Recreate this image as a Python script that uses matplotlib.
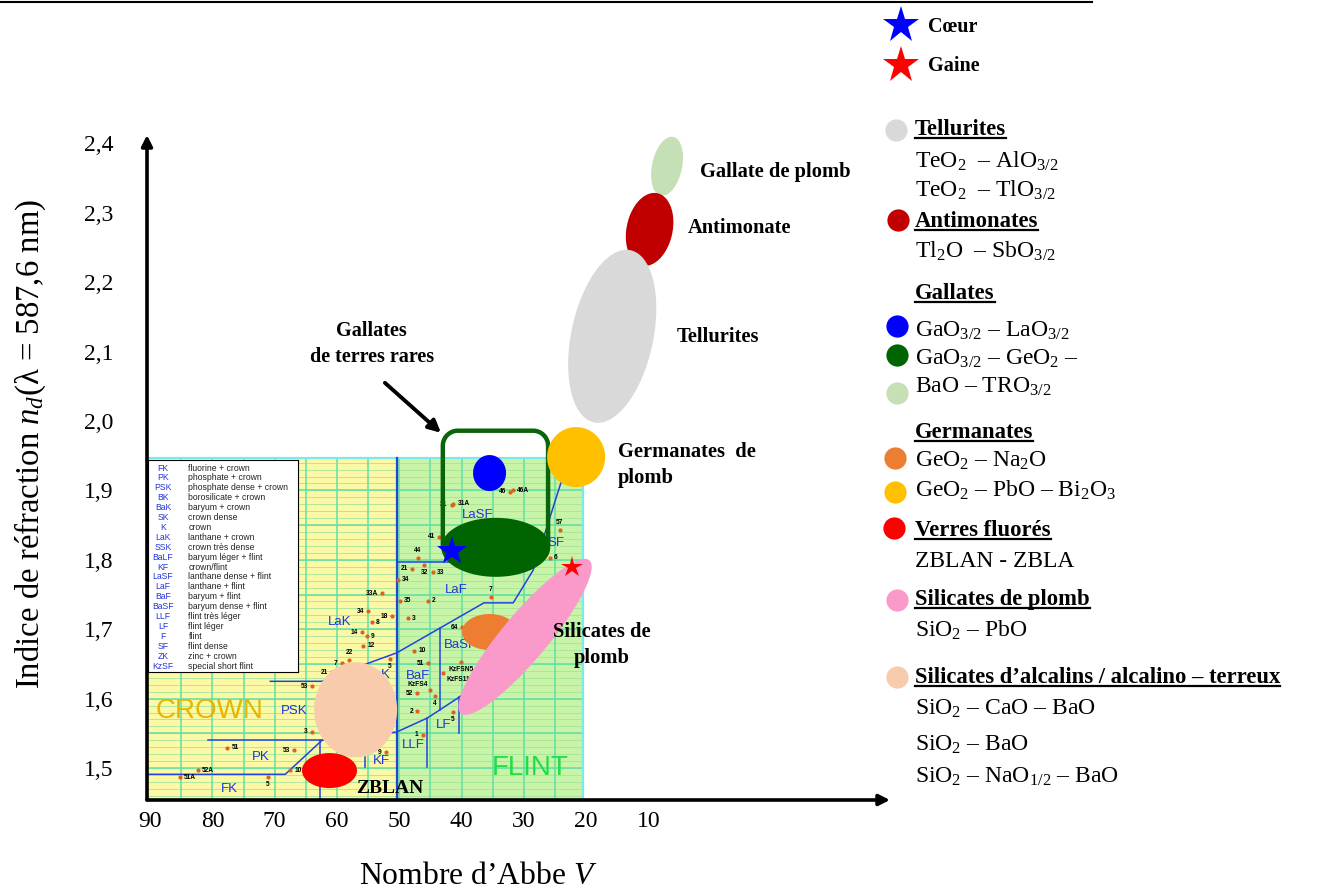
import numpy as np
import matplotlib.pyplot as plt
from matplotlib.patches import Rectangle

plt.rcParams['font.family'] = ['Liberation Serif', 'DejaVu Serif']
plt.rcParams['mathtext.fontset'] = 'custom'
plt.rcParams['mathtext.rm'] = 'Liberation Serif'
plt.rcParams['mathtext.it'] = 'Liberation Serif:italic'
plt.rcParams['mathtext.bf'] = 'Liberation Serif:bold'

W, H = 1317, 892

# axis ticks
abbe_ticks = [90, 80, 70, 60, 50, 40, 30, 20, 10]
nd_ticks = [1.5, 1.6, 1.7, 1.8, 1.9, 2.0, 2.1, 2.2, 2.3, 2.4]

# glass families: centre of each domain (Abbe number, index)
family_names = ['Gallate de plomb', 'Antimonates', 'Tellurites', 'Germanates PbO',
                'GaO-LaO', 'GaO-GeO-BaO', 'GeO-Na2O', 'Silicates de plomb',
                'Silicates alcalins', 'ZBLAN']
family_V = [7.0, 9.8, 15.8, 21.6, 35.5, 34.5, 35.5, 29.8, 57.0, 61.2]
family_nd = [2.367, 2.276, 2.122, 1.948, 1.925, 1.818, 1.696, 1.689, 1.584, 1.4964]
family_colors = ['#c5e0b4', '#c00000', '#d9d9d9', '#ffc000', '#0000ff', '#006400',
                 '#ed7d31', '#fa9acb', '#f8cbad', '#ff0000']
# ellipse shape on screen: width px, height px, tilt deg
family_shape = [(30, 60, -12), (46, 74, -12), (82, 176, -12), (58, 60, 0),
                (33, 36, 0), (109, 59, 0), (55, 36, 0), (200, 46, 50),
                (83, 95, 0), (55, 35, 0)]

# fibre core / cladding glasses
core_V, core_nd = 41.5, 1.813
clad_V, clad_nd = 22.3, 1.790

# rare-earth gallate window
gallate_box_V = (43.0, 26.1)
gallate_box_nd = (1.82, 1.986)

# classical optical glasses (Schott-type map)
glass_labels = ['46', '46A', '31', '31A', '41', '57', '6', '44', '32', '21', '33', '34',
                '33A', '35', '2', '7', '34', '18', '8', '3', '64', '14', '9', '12', '10',
                '51', 'KzFSN5', '5', '22', '7', '21', '53', 'KzFS11', 'KzFS4', '52', '4',
                '2', '1', '5', '9', '3', '53', '51', '52A', '51A', '5', '10']
glass_V = [32.2, 31.7, 41.6, 41.3, 43.6, 24.2, 25.8, 47.0, 46.0, 47.9, 44.6, 50.2,
           52.8, 49.9, 45.4, 35.3, 55.0, 51.2, 54.4, 48.6, 39.9, 56.0, 55.2, 55.8, 47.6,
           45.4, 40.1, 51.5, 58.0, 59.2, 60.8, 64.0, 42.9, 45.1, 47.1, 44.3,
           47.1, 46.2, 41.4, 52.1, 64.0, 66.9, 77.6, 82.3, 85.2, 71.1, 67.5]
glass_nd = [1.898, 1.900, 1.879, 1.881, 1.833, 1.843, 1.803, 1.803, 1.793, 1.787, 1.782, 1.771,
            1.752, 1.741, 1.741, 1.746, 1.726, 1.719, 1.710, 1.716, 1.703, 1.696, 1.690, 1.676, 1.669,
            1.651, 1.653, 1.657, 1.656, 1.651, 1.638, 1.618, 1.637, 1.612, 1.608, 1.604,
            1.582, 1.548, 1.581, 1.523, 1.552, 1.526, 1.529, 1.497, 1.487, 1.487, 1.497]
glass_side = ['l', 'r', 'l', 'r', 'l', 'a', 'r', 'a', 'b', 'l', 'r', 'r',
              'l', 'r', 'r', 'a', 'l', 'l', 'r', 'r', 'l', 'l', 'r', 'r', 'r',
              'l', 'b', 'b', 'a', 'l', 'l', 'l', 'br', 'al', 'l', 'b',
              'l', 'l', 'b', 'l', 'l', 'l', 'r', 'r', 'r', 'b', 'r']

# region boundaries of the glass map
region_lines = [
    [(70.7, 1.625), (62.4, 1.625), (55.0, 1.651), (50.4, 1.666), (36.4, 1.738),
     (31.7, 1.738), (28.5, 1.785), (23.4, 1.929)],
    [(50.4, 1.797), (41.5, 1.797)],
    [(43.5, 1.702), (43.5, 1.584)],
    [(90.5, 1.491), (68.3, 1.491), (62.4, 1.540)],
    [(80.7, 1.540), (62.4, 1.540)],
    [(62.7, 1.540), (62.7, 1.454)],
    [(62.4, 1.540), (50.4, 1.552), (45.5, 1.572), (40.4, 1.602), (35.5, 1.635)],
    [(45.5, 1.572), (45.5, 1.501)],
    [(40.4, 1.602), (40.4, 1.550)],
    [(55.5, 1.516), (55.5, 1.501)],
]
region_names = ['LaSF', 'SF', 'LaF', 'LaK', 'BaSF', 'BaF', 'K', 'PSK', 'PK', 'FK',
                'KF', 'LLF', 'LF']
region_V = [37.4, 24.8, 40.9, 59.5, 40.2, 47.0, 52.3, 66.9, 72.3, 77.2, 52.9, 47.8, 42.8]
region_nd = [1.865, 1.824, 1.756, 1.710, 1.677, 1.633, 1.634, 1.582, 1.516, 1.470,
             1.510, 1.533, 1.562]

key_codes = ['FK', 'PK', 'PSK', 'BK', 'BaK', 'SK', 'K', 'LaK', 'SSK', 'BaLF', 'KF',
             'LaSF', 'LaF', 'BaF', 'BaSF', 'LLF', 'LF', 'F', 'SF', 'ZK', 'KzSF']
key_text = ['fluorine + crown', 'phosphate + crown', 'phosphate dense + crown',
            'borosilicate + crown', 'baryum + crown', 'crown dense', 'crown',
            'lanthane + crown', 'crown très dense', 'baryum léger + flint', 'crown/flint',
            'lanthane dense + flint', 'lanthane + flint', 'baryum + flint',
            'baryum dense + flint', 'flint très léger', 'flint léger', 'flint',
            'flint dense', 'zinc + crown', 'special short flint']

fig = plt.figure(figsize=(W / 100, H / 100), dpi=100)
ax = fig.add_axes([147 / W, 1 - 800 / H, (890 - 147) / W, (800 - 135) / H])
V_MAX, V_MIN = 90.5, -28.8
ND_MIN, ND_MAX = 1.454, 2.412
ax.set_xlim(V_MAX, V_MIN)
ax.set_ylim(ND_MIN, ND_MAX)
for s in ax.spines.values():
    s.set_visible(False)

ax.set_xticks(abbe_ticks)
ax.set_xticklabels([str(t) for t in abbe_ticks])
ax.set_yticks(nd_ticks)
ax.set_yticklabels([f'{t:.1f}'.replace('.', ',') for t in nd_ticks])
ax.tick_params(axis='both', length=0, labelsize=17)
ax.tick_params(axis='y', pad=24)
ax.tick_params(axis='x', pad=8)

# axes with arrow heads
arrow = dict(arrowstyle='-|>', lw=2.6, color='k', mutation_scale=16, shrinkA=0, shrinkB=0)
ax.annotate('', xy=(0, 1.0), xytext=(0, 0), xycoords='axes fraction', arrowprops=arrow, zorder=6)
ax.annotate('', xy=(1.0, 0), xytext=(0, 0), xycoords='axes fraction', arrowprops=arrow, zorder=6)

# glass map background
MAP_RIGHT, MAP_TOP, CROWN_EDGE = 20.5, 1.947, 50.4
ax.add_patch(Rectangle((CROWN_EDGE, ND_MIN), V_MAX - CROWN_EDGE, MAP_TOP - ND_MIN,
                       fc='#fbf9a6', ec='none', zorder=0.2))
ax.add_patch(Rectangle((MAP_RIGHT, ND_MIN), CROWN_EDGE - MAP_RIGHT, MAP_TOP - ND_MIN,
                       fc='#c8f4a8', ec='none', zorder=0.2))
ax.hlines(np.arange(1.46, 1.945, 0.01), MAP_RIGHT, V_MAX, color='#a6e49a', lw=0.6, zorder=0.3)
ax.hlines(np.arange(1.50, 1.945, 0.05), MAP_RIGHT, V_MAX, color='#5fe0a6', lw=1.1, zorder=0.35)
ax.vlines(np.arange(25, 90, 5), ND_MIN, MAP_TOP, color='#5fe0a6', lw=1.1, zorder=0.35)
ax.plot([V_MAX, MAP_RIGHT, MAP_RIGHT], [MAP_TOP, MAP_TOP, ND_MIN], color='#7aeaea', lw=1.6, zorder=0.4)

for line in region_lines:
    xs, ys = zip(*line)
    ax.plot(xs, ys, color='#2244dd', lw=1.1, zorder=1)
ax.plot([CROWN_EDGE, CROWN_EDGE], [ND_MIN, MAP_TOP], color='#2244dd', lw=1.6, zorder=1)

for name, v, n in zip(region_names, region_V, region_nd):
    ax.text(v, n, name, color='#2233dd', fontsize=9.5, family='Liberation Sans',
            ha='center', va='center', zorder=1.2)
ax.text(80.4, 1.582, 'CROWN', color='#e8b400', fontsize=20, family='Liberation Sans',
        ha='center', va='center', zorder=1.2)
ax.text(29.0, 1.500, 'FLINT', color='#22dd44', fontsize=20, family='Liberation Sans',
        ha='center', va='center', zorder=1.2)

ax.plot(glass_V, glass_nd, 'o', color='#e2601c', ms=3, mew=0, zorder=2)
offs = {'l': (-3, 0, 'right', 'center'), 'r': (3, 0, 'left', 'center'),
        'a': (0, 3, 'center', 'bottom'), 'b': (0, -3, 'center', 'top'),
        'br': (2, -2, 'left', 'top'), 'al': (-1, 2, 'right', 'bottom')}
for lab, v, n, side in zip(glass_labels, glass_V, glass_nd, glass_side):
    dx, dy, ha, va = offs[side]
    ax.annotate(lab, (v, n), xytext=(dx, dy), textcoords='offset points', fontsize=4.8,
                family='Liberation Sans', weight='bold', ha=ha, va=va, zorder=2)

# pixel scale of the data axes
p0 = ax.transData.transform((0, 0))
sx = abs(ax.transData.transform((1, 0))[0] - p0[0])
sy = abs(ax.transData.transform((0, 1))[1] - p0[1])

# rare-earth gallate window, rounded top corners
x0, yb = ax.transData.transform((gallate_box_V[0], gallate_box_nd[0]))
x1, yt = ax.transData.transform((gallate_box_V[1], gallate_box_nd[1]))
r = 15
a1 = np.linspace(np.pi, np.pi / 2, 20)
a2 = np.linspace(np.pi / 2, 0, 20)
px = np.concatenate([[x0], x0 + r + r * np.cos(a1), x1 - r + r * np.cos(a2), [x1]])
py = np.concatenate([[yb], yt - r + r * np.sin(a1), yt - r + r * np.sin(a2), [yb]])
box = ax.transData.inverted().transform(np.column_stack([px, py]))
ax.plot(box[:, 0], box[:, 1], color='#0a640a', lw=3.2, zorder=2.5, solid_capstyle='butt')

t = np.linspace(0, 2 * np.pi, 240)
for v, n, c, (w, h, ang) in zip(family_V, family_nd, family_colors, family_shape):
    th = np.radians(ang)
    dx = w / 2 * np.cos(t) * np.cos(th) - h / 2 * np.sin(t) * np.sin(th)
    dy = w / 2 * np.cos(t) * np.sin(th) + h / 2 * np.sin(t) * np.cos(th)
    ax.fill(v - dx / sx, n + dy / sy, color=c, lw=0, zorder=3)

ax.plot(core_V, core_nd, '*', color='#0000ff', ms=22, mew=0, zorder=4)
ax.plot(clad_V, clad_nd, '*', color='#ff0000', ms=16, mew=0, zorder=4)

# domain labels
bold = dict(fontsize=14.8, weight='bold', zorder=5)
ax.text(1.7, 2.359, 'Gallate de plomb', ha='left', va='center', **bold)
ax.text(3.6, 2.278, 'Antimonate', ha='left', va='center', **bold)
ax.text(5.4, 2.121, 'Tellurites', ha='left', va='center', **bold)
ax.text(14.9, 1.937, 'Germanates  de\nplomb', ha='left', va='center', linespacing=1.4, **bold)
ax.text(17.4, 1.678, 'Silicates de\nplomb', ha='center', va='center', linespacing=1.4, **bold)
ax.text(51.6, 1.471, 'ZBLAN', ha='center', va='center', fontsize=14, weight='bold', zorder=5)
ax.text(54.4, 2.111, 'Gallates\nde terres rares', ha='center', va='center',
        fontsize=14.5, weight='bold', linespacing=1.45)
ax.annotate('', xy=(43.3, 1.983), xytext=(52.3, 2.055),
            arrowprops=dict(arrowstyle='-|>', lw=2.8, color='k', mutation_scale=18,
                            shrinkA=0, shrinkB=0))

fig.text(30 / W, 1 - 444 / H, 'Indice de réfraction $n_d$(λ = 587,6 nm)', rotation=90,
         ha='center', va='center', fontsize=23.6)
fig.text(478 / W, 1 - 876 / H, 'Nombre d’Abbe $V$', ha='center', va='center', fontsize=22.8)

# key to glass types
key = fig.add_axes([148 / W, 1 - 672 / H, 150 / W, 212 / H], zorder=3)
key.set_xticks([])
key.set_yticks([])
for s in key.spines.values():
    s.set_linewidth(0.8)
rows = np.linspace(0.962, 0.028, len(key_codes))
for code, desc, yy in zip(key_codes, key_text, rows):
    key.text(0.10, yy, code, color='#2233dd', fontsize=6.2, family='Liberation Sans',
             ha='center', va='center')
    key.text(0.27, yy, desc, color='#222222', fontsize=6.2, family='Liberation Sans',
             ha='left', va='center')

# legend panel in pixel coordinates
ov = fig.add_axes([0, 0, 1, 1], zorder=10)
ov.set_xlim(0, W)
ov.set_ylim(H, 0)
ov.axis('off')
ov.patch.set_alpha(0)
ov.plot([0, 1092], [2, 2], color='k', lw=1.5)
ov.plot(901, 25, '*', color='#0000ff', ms=28, mew=0)
ov.plot(901, 65, '*', color='#ff0000', ms=28, mew=0)
ov.text(928, 32, 'Cœur', fontsize=14.5, weight='bold', va='baseline')
ov.text(928, 71, 'Gaine', fontsize=14.5, weight='bold', va='baseline')

legend_dots = [(896, 130, '#d9d9d9'), (898, 220, '#c00000'), (897, 326, '#0000ff'),
               (897, 355, '#006400'), (897, 393, '#c5e0b4'), (895, 458, '#ed7d31'),
               (895, 492, '#ffc000'), (894, 528, '#ff0000'), (897, 600, '#fa9acb'),
               (897, 677, '#f8cbad')]
for x, y, c in legend_dots:
    ov.plot(x, y, 'o', color=c, ms=16, mew=0)

headings = [(135, 'Tellurites'), (227, 'Antimonates'), (299, 'Gallates'),
            (438, 'Germanates'), (536, 'Verres fluorés'), (605, 'Silicates de plomb'),
            (683, 'Silicates d’alcalins / alcalino – terreux')]
formulas = [(168, 'TeO$_2$  – AlO$_{3/2}$'), (197, 'TeO$_2$  – TlO$_{3/2}$'),
            (258, 'Tl$_2$O  – SbO$_{3/2}$'), (337, 'GaO$_{3/2}$ – LaO$_{3/2}$'),
            (365, 'GaO$_{3/2}$ – GeO$_2$ –'), (393, 'BaO – TRO$_{3/2}$'),
            (467, 'GeO$_2$ – Na$_2$O'), (497, 'GeO$_2$ – PbO – Bi$_2$O$_3$'),
            (567, 'ZBLAN - ZBLA'), (637, 'SiO$_2$ – PbO'), (715, 'SiO$_2$ – CaO – BaO'),
            (751, 'SiO$_2$ – BaO'), (783, 'SiO$_2$ – NaO$_{1/2}$ – BaO')]
head_txt = [ov.text(915, y, s, fontsize=16.3, weight='bold', va='baseline') for y, s in headings]
for y, s in formulas:
    ov.text(915, y, s, fontsize=17, va='baseline')

fig.canvas.draw()
for tx, (y, s) in zip(head_txt, headings):
    bb = tx.get_window_extent()
    ov.plot([bb.x0, bb.x1], [y + 2.5, y + 2.5], color='k', lw=1.6)

fig.savefig('out.png', dpi=100, facecolor='white')
